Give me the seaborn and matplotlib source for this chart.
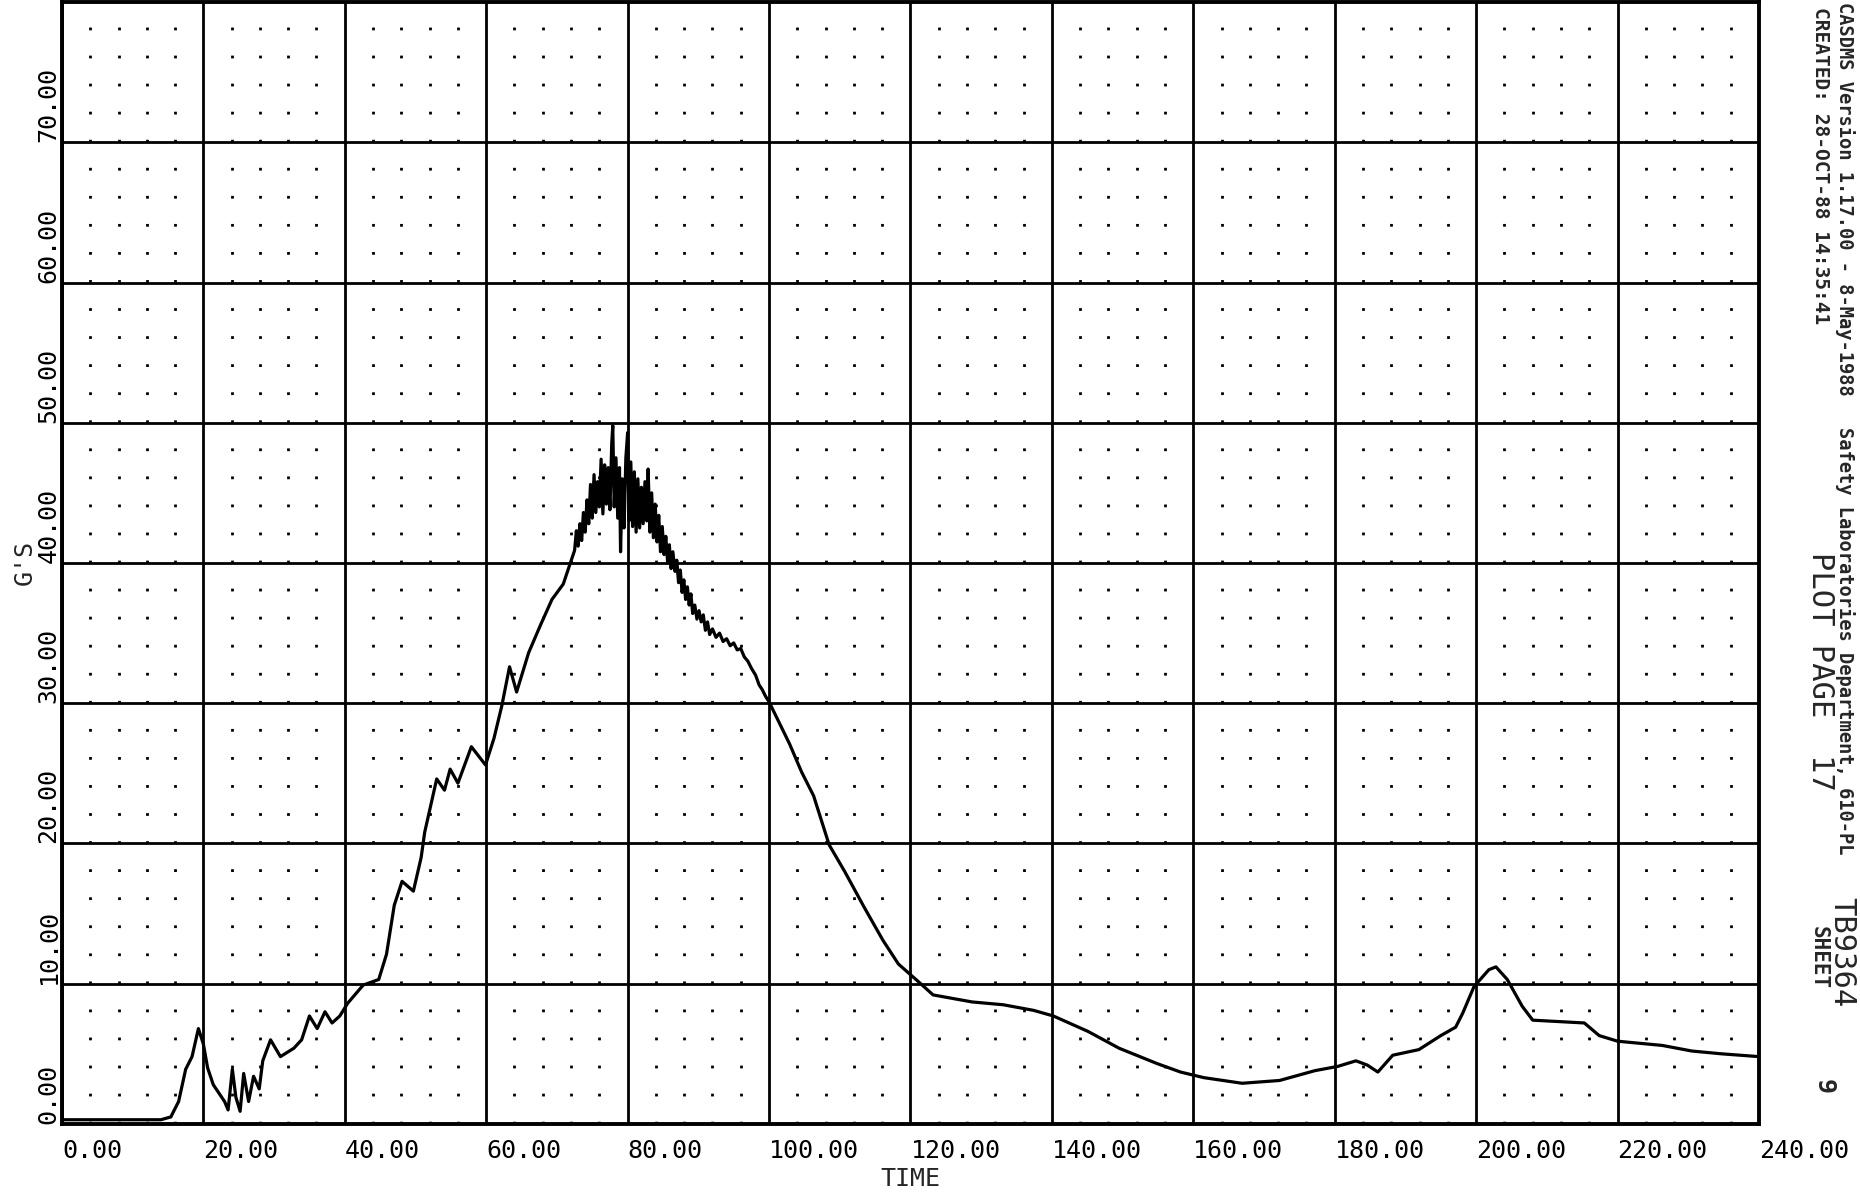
import matplotlib
matplotlib.use("Agg")
import matplotlib.pyplot as plt
import seaborn as sns
import pandas as pd


# values (TIME, G'S)
time_vals = [
    0, 5, 10, 14, 15.4, 16.5, 17.5, 18.4, 19.3, 20.0, 20.6, 21.4, 22.2, 23.0,
    23.5, 24.1, 24.6, 25.2, 25.7, 26.4, 27.1, 27.9, 28.4, 29.5, 30.9, 32.8,
    33.9, 35.0, 36.1, 37.2, 38.2, 39.3, 40.4, 42.6, 44.8, 45.9, 47.0, 48.1,
    49.7, 50.8, 51.3, 52.2, 53.0, 54.1, 54.9, 56.0, 57.9, 59.9, 61.1, 62.2,
    63.3, 64.3, 66.0, 67.7, 69.3, 70.9,
    72.50, 72.75, 73.00, 73.25, 73.50, 73.75, 74.00, 74.25, 74.50, 74.75,
    75.00, 75.25, 75.50, 75.75, 76.00, 76.25, 76.50, 76.75, 77.00, 77.25,
    77.50, 77.75, 77.90, 78.10, 78.35, 78.60, 78.85, 79.00, 79.25, 79.50,
    79.75, 80.00, 80.20, 80.45, 80.70, 80.95, 81.20, 81.45, 81.70, 81.95,
    82.20, 82.45, 82.70, 82.90, 83.15, 83.40, 83.65, 83.90, 84.15, 84.40,
    84.65, 84.90, 85.15, 85.40, 85.65, 85.90, 86.15, 86.40, 86.70, 86.95,
    87.20, 87.45, 87.70, 87.95, 88.20, 88.45, 88.70, 88.95, 89.20, 89.50,
    89.80, 90.10, 90.40, 90.70, 91.00, 91.30, 91.60, 92.00, 92.50, 93.00,
    93.50, 94.00, 94.50, 95.00, 95.50, 96.00, 96.50, 97.00, 97.50, 98.10,
    98.60, 99.00, 99.50, 100.00,
    102.9, 104.6, 106.3, 108.5, 110.7, 113.4, 116.1, 118.3, 121.0, 123.2,
    125.4, 128.7, 133.1, 137.4, 140.2, 145.1, 149.5, 154.9, 158.2, 161.5,
    166.9, 172.2, 177.2, 180.4, 183.0, 184.6, 186.1, 188.2, 191.9, 195.0,
    197.1, 198.1, 199.7, 201.8, 202.8, 204.4, 206.5, 208.0, 211.7, 215.3,
    217.4, 220.0, 226.3, 230.5, 234.7, 240.0,
]
gs_vals = [
    0.3, 0.3, 0.3, 0.3, 0.5, 1.6, 3.9, 4.8, 6.8, 5.7, 4.0, 2.8, 2.2, 1.6,
    1.0, 3.9, 1.9, 0.9, 3.6, 1.6, 3.4, 2.5, 4.5, 6.0, 4.8, 5.4,
    6.0, 7.7, 6.8, 8.0, 7.2, 7.7, 8.6, 9.9, 10.3, 12.1, 15.6, 17.3,
    16.6, 19.0, 20.8, 22.8, 24.6, 23.8, 25.3, 24.3, 26.9, 25.6, 27.5, 29.8,
    32.6, 30.8, 33.6, 35.6, 37.4, 38.5,
    40.9, 42.3, 41.2, 42.8, 41.6, 43.6, 42.2, 44.5, 42.8, 45.6,
    43.2, 46.3, 43.6, 45.8, 44.0, 47.4, 43.5, 47.0, 44.2, 46.8,
    43.8, 48.5, 49.8, 44.0, 47.5, 43.2, 46.8, 40.8, 46.0, 42.5,
    47.5, 49.3, 43.0, 47.2, 42.6, 46.5, 42.2, 46.0, 42.5, 45.4,
    42.8, 45.8, 43.0, 46.7, 42.2, 45.0, 41.8, 44.2, 41.5, 43.4,
    40.8, 42.6, 40.6, 41.9, 40.1, 41.3, 39.6, 40.8, 39.4, 40.2,
    38.6, 39.5, 37.9, 38.8, 37.4, 38.3, 37.0, 37.8, 36.4, 37.0,
    36.0, 36.6, 35.8, 36.3, 35.2, 35.8, 34.9, 35.3, 34.7, 35.0,
    34.4, 34.6, 34.1, 34.3, 33.8, 33.9, 33.3, 33.0, 32.5, 32.0,
    31.3, 31.0, 30.5, 30.1,
    27.1, 25.1, 23.4, 19.9, 18.0, 15.5, 13.1, 11.4, 10.2, 9.2,
    9.0, 8.7, 8.5, 8.1, 7.7, 6.6, 5.4, 4.3, 3.7, 3.3,
    2.9, 3.1, 3.8, 4.1, 4.5, 4.2, 3.7, 4.9, 5.3, 6.3,
    6.9, 7.9, 9.8, 11.0, 11.2, 10.3, 8.4, 7.4, 7.3, 7.2,
    6.3, 5.9, 5.6, 5.2, 5.0, 4.8,
]

x_ticks = list(range(0, 241, 20))
y_ticks = list(range(0, 80, 10))
x_minor = [v for v in range(4, 240, 4) if v % 20]

df = pd.DataFrame({"TIME": time_vals, "G'S": gs_vals})

sns.set_style("white")
plt.rcParams["font.family"] = ["DejaVu Sans Mono", "DejaVu Sans"]

fig = plt.figure(figsize=(18.6, 11.99), dpi=100)
ax = fig.add_axes([0.0333, 0.0626, 0.9124, 0.9357])

sns.lineplot(data=df, x="TIME", y="G'S", color="black", linewidth=2.3,
             estimator=None, sort=False, ax=ax)

ax.set_xlim(0, 240)
ax.set_ylim(0, 80)
ax.set_xticks(x_ticks)
ax.set_yticks(y_ticks)
ax.set_xticks(x_minor, minor=True)
ax.set_xticklabels([f"{v:.2f}" for v in x_ticks])
ax.set_yticklabels([f"{v:.2f}" for v in y_ticks])
for lab in ax.get_xticklabels():
    lab.set_ha("left")
for lab in ax.get_yticklabels():
    lab.set_rotation(90)
    lab.set_va("bottom")

ax.grid(which="major", color="black", linewidth=2.0)
# dot texture of the plotter paper (every 4 s by 2 g)
ax.grid(which="minor", axis="x", color="black", linewidth=2.0,
        linestyle=(0, (1, 9.1)))
ax.tick_params(axis="x", which="major", direction="out", length=9, width=2,
               pad=2, labelsize=18, colors="black")
ax.tick_params(axis="x", which="minor", length=0)
ax.tick_params(axis="y", length=0, pad=1, labelsize=18, colors="black")
for sp in ax.spines.values():
    sp.set_linewidth(2.8)
    sp.set_color("black")

ax.set_xlabel("TIME", fontsize=18, labelpad=3)
ax.set_ylabel("G'S", fontsize=18, labelpad=0)

# header strip on the right edge
fig.text(0.9920, 0.998, "CASDMS Version 1.17.00 - 8-May-1988",
         rotation=270, ha="center", va="top", fontsize=13.5, weight="bold")
fig.text(0.9920, 0.644, "Safety Laboratories Department, 610-PL",
         rotation=270, ha="center", va="top", fontsize=13.5, weight="bold")
fig.text(0.9900, 0.252, "TB9364", rotation=270, ha="center", va="top",
         fontsize=22)
fig.text(0.9790, 0.994, "CREATED: 28-OCT-88 14:35:41",
         rotation=270, ha="center", va="top", fontsize=14, weight="bold")
fig.text(0.9785, 0.540, "PLOT PAGE  17", rotation=270, ha="center",
         va="top", fontsize=22)
fig.text(0.9775, 0.228, "SHEET", rotation=270, ha="center", va="top",
         fontsize=15, weight="bold")
fig.text(0.9805, 0.100, "9", rotation=270, ha="center", va="top",
         fontsize=18, weight="bold")

fig.savefig("out.png", dpi=100)
